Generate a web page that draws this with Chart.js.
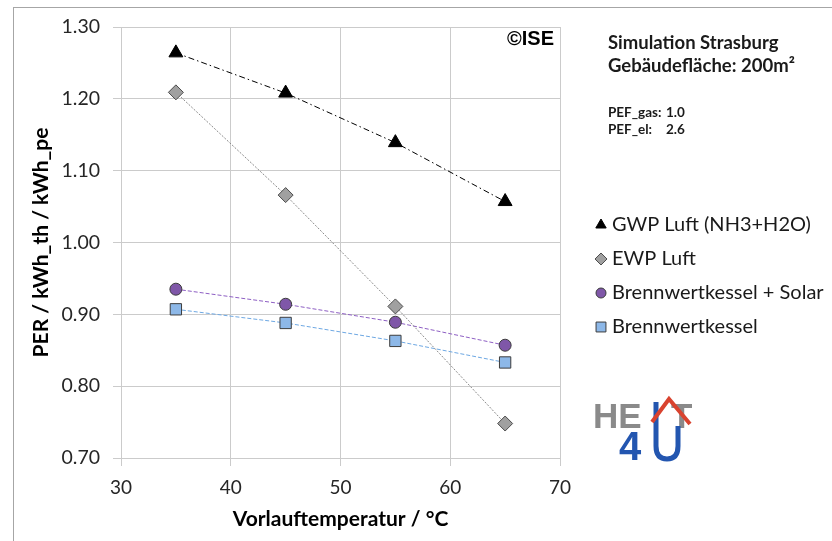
<!DOCTYPE html>
<html>
<head>
<meta charset="utf-8">
<script src="https://cdn.jsdelivr.net/npm/chart.js@4.4.1/dist/chart.umd.min.js"></script>
<style>
  html, body { margin: 0; padding: 0; background: #fff; }
  #wrap { width: 832px; height: 541px; position: relative; }
</style>
</head>
<body>
<div id="wrap"><canvas id="perChart"></canvas></div>
<script>
// Vorlauftemperatur in °C
var temps = [35, 45, 55, 65];
// PER-Werte je System
var gwpLuft = [1.264, 1.208, 1.139, 1.057];
var ewpLuft = [1.209, 1.066, 0.911, 0.748];
var bwkSolar = [0.935, 0.914, 0.889, 0.857];
var bwk = [0.907, 0.888, 0.863, 0.833];

var seriesNames = ['GWP Luft (NH3+H2O)', 'EWP Luft', 'Brennwertkessel + Solar', 'Brennwertkessel'];
var infoLines = ['Simulation Strasburg', 'Gebäudefläche: 200m²'];
var pefLabels = ['PEF_gas:', 'PEF_el:'];
var pefValues = ['1.0', '2.6'];

function toPoints(ys) {
    return temps.map(function (t, i) { return { x: t, y: ys[i] }; });
}

var gridColor = '#cbcbcb';

// Rahmen, Texte, Legende und Logo
var extrasPlugin = {
    id: 'extras',
    beforeDraw: function (chart) {
        var ctx = chart.ctx;
        ctx.save();
        ctx.fillStyle = '#fff';
        ctx.fillRect(0, 0, chart.width, chart.height);
        ctx.strokeStyle = '#a6a6a6';
        ctx.lineWidth = 1;
        ctx.strokeRect(13.5, 7.5, 900, 600);
        ctx.restore();
    },
    afterDraw: function (chart) {
        var ctx = chart.ctx;
        var area = chart.chartArea;
        ctx.save();

        // ©ISE
        ctx.fillStyle = '#000';
        ctx.font = 'bold 20px "Liberation Sans", Arial, sans-serif';
        ctx.textAlign = 'right';
        ctx.textBaseline = 'middle';
        ctx.fillText('©ISE', area.right - 6, 39);

        // Simulationsinfo
        ctx.textAlign = 'left';
        ctx.font = 'bold 18.5px Lato, sans-serif';
        ctx.fillStyle = '#1a1a1a';
        ctx.fillText(infoLines[0], 608, 43);
        ctx.fillText(infoLines[1], 608, 66);
        ctx.font = 'bold 13.5px Lato, sans-serif';
        ctx.fillText(pefLabels[0], 608, 113);
        ctx.fillText(pefValues[0], 666, 113);
        ctx.fillText(pefLabels[1], 608, 130);
        ctx.fillText(pefValues[1], 666, 130);

        // Legende
        var rowY = [225, 259, 293, 327];
        chart.data.datasets.forEach(function (ds, i) {
            var y = rowY[i];
            ctx.save();
            ctx.fillStyle = ds.pointBackgroundColor;
            ctx.strokeStyle = ds.pointBorderColor;
            ctx.lineWidth = 1;
            Chart.helpers.drawPoint(ctx, {
                pointStyle: ds.pointStyle,
                radius: ds.legendRadius,
                borderWidth: 1,
                rotation: 0
            }, 601, y);
            ctx.restore();
            ctx.fillStyle = '#1a1a1a';
            ctx.font = '20px Lato, sans-serif';
            ctx.textBaseline = 'middle';
            ctx.fillText(ds.label, 612, y);
        });

        // HEAT 4U Logo
        ctx.textBaseline = 'alphabetic';
        ctx.font = 'bold 35px "Liberation Sans", Arial, sans-serif';
        ctx.fillStyle = '#8a8a8a';
        ctx.fillText('HE', 593, 428);
        ctx.fillText('T', 671, 428);
        ctx.fillStyle = '#2356b0';
        ctx.font = 'bold 40px "Liberation Sans", Arial, sans-serif';
        ctx.fillText('4', 619, 460);
        ctx.strokeStyle = '#2356b0';
        ctx.lineWidth = 5;
        ctx.beginPath();
        ctx.moveTo(656, 402);
        ctx.lineTo(656, 446);
        ctx.quadraticCurveTo(656, 459, 667, 459);
        ctx.quadraticCurveTo(678, 459, 678, 446);
        ctx.lineTo(678, 426);
        ctx.stroke();
        ctx.strokeStyle = '#d9432f';
        ctx.lineWidth = 4;
        ctx.beginPath();
        ctx.moveTo(652, 422);
        ctx.lineTo(669, 399);
        ctx.lineTo(690, 424);
        ctx.stroke();

        ctx.restore();
    }
};

var ctx = document.getElementById('perChart').getContext('2d');
var perChart = new Chart(ctx, {
    type: 'line',
    data: {
        datasets: [{
            label: seriesNames[0],
            data: toPoints(gwpLuft),
            borderColor: '#000',
            borderWidth: 1,
            borderDash: [6, 3, 1.5, 3],
            pointStyle: 'triangle',
            pointRadius: 8,
            legendRadius: 6,
            pointBackgroundColor: '#000',
            pointBorderColor: '#000',
            pointBorderWidth: 1
        }, {
            label: seriesNames[1],
            data: toPoints(ewpLuft),
            borderColor: '#8c8c8c',
            borderWidth: 1,
            borderDash: [2, 1.5],
            pointStyle: 'rectRot',
            pointRadius: 7.5,
            legendRadius: 6,
            pointBackgroundColor: '#a0a0a0',
            pointBorderColor: '#4d4d4d',
            pointBorderWidth: 1
        }, {
            label: seriesNames[2],
            data: toPoints(bwkSolar),
            borderColor: '#8e5fc4',
            borderWidth: 1,
            borderDash: [4, 2],
            pointStyle: 'circle',
            pointRadius: 6,
            legendRadius: 5,
            pointBackgroundColor: '#7f57a8',
            pointBorderColor: '#3d3d3d',
            pointBorderWidth: 1
        }, {
            label: seriesNames[3],
            data: toPoints(bwk),
            borderColor: '#6ea8e3',
            borderWidth: 1,
            borderDash: [4, 2],
            pointStyle: 'rect',
            pointRadius: 8,
            legendRadius: 7,
            pointBackgroundColor: '#8db8e8',
            pointBorderColor: '#3d3d3d',
            pointBorderWidth: 1
        }]
    },
    options: {
        responsive: true,
        maintainAspectRatio: false,
        animation: false,
        layout: { padding: { left: 0, right: 272, top: 27, bottom: 0 } },
        plugins: {
            legend: { display: false },
            tooltip: { enabled: false }
        },
        scales: {
            x: {
                type: 'linear',
                min: 30,
                max: 70,
                ticks: {
                    stepSize: 10,
                    color: '#262626',
                    font: { family: 'Lato', size: 19 },
                    padding: 10
                },
                grid: { color: gridColor, tickLength: 8, tickColor: gridColor },
                border: { color: gridColor },
                title: {
                    display: true,
                    text: 'Vorlauftemperatur / °C',
                    color: '#000',
                    font: { family: 'Lato', size: 21, weight: 'bold' },
                    padding: { top: 0, bottom: 9 }
                },
                afterFit: function (scale) { scale.height = 83; }
            },
            y: {
                min: 0.7,
                max: 1.3,
                ticks: {
                    stepSize: 0.1,
                    color: '#262626',
                    font: { family: 'Lato', size: 19.5 },
                    padding: 13,
                    callback: function (v) { return v.toFixed(2); }
                },
                grid: { color: gridColor, tickLength: 8, tickColor: gridColor },
                border: { color: gridColor },
                title: {
                    display: true,
                    text: 'PER / kWh_th / kWh_pe',
                    color: '#000',
                    font: { family: 'Lato', size: 21, weight: 'bold' },
                    padding: { top: 29, bottom: 0 }
                },
                afterFit: function (scale) { scale.width = 121; }
            }
        }
    },
    plugins: [extrasPlugin]
});
</script>
</body>
</html>
